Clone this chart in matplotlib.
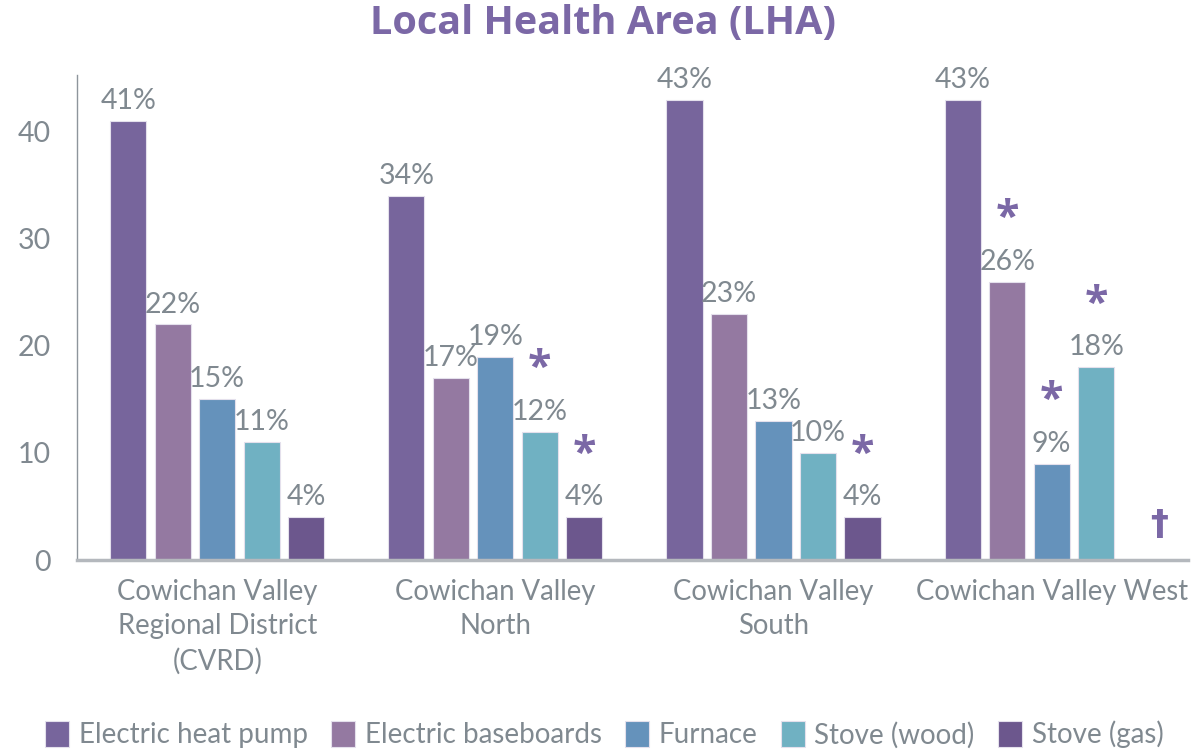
import matplotlib.pyplot as plt
import numpy as np

# data
regions = ["Cowichan Valley\nRegional District\n(CVRD)", "Cowichan Valley\nNorth",
           "Cowichan Valley\nSouth", "Cowichan Valley West"]
sources = ["Electric heat pump", "Electric baseboards", "Furnace", "Stove (wood)", "Stove (gas)"]
heat_pump = [41, 34, 43, 43]
baseboards = [22, 17, 23, 26]
furnace = [15, 19, 13, 9]
stove_wood = [11, 12, 10, 18]
stove_gas = [4, 4, 4, None]
# (region index, source index) flagged with an asterisk
flagged = [(1, 3), (1, 4), (2, 4), (3, 1), (3, 2), (3, 3)]
# suppressed value (dagger)
suppressed = [(3, 4)]

colors = ["#77659c", "#9479a1", "#6592bb", "#70b1c2", "#6c578d"]
text_gray = "#808990"
accent = "#7b68a6"

plt.rcParams['font.family'] = ['Lato', 'DejaVu Sans']

fig = plt.figure(figsize=(11.92, 7.53), dpi=100)
ax = fig.add_axes([0.0646, 0.2563, 0.932, 0.6441])

x = np.arange(len(regions))
step = 0.16
width = 0.13
series = [heat_pump, baseboards, furnace, stove_wood, stove_gas]

for i, (name, vals) in enumerate(zip(sources, series)):
    pos = x + (i - 2) * step
    h = [v if v is not None else 0 for v in vals]
    bars = ax.bar(pos, h, width, color=colors[i], edgecolor="#e4e0ec", linewidth=0.8, label=name)
    for b, v in zip(bars, vals):
        if v is None:
            continue
        ax.annotate(f"{v}%", (b.get_x() + b.get_width() / 2, v), xytext=(0, 5),
                    textcoords="offset points", ha="center", va="bottom",
                    fontsize=20.5, color=text_gray)

for r, s in flagged:
    v = series[s][r]
    ax.text(x[r] + (s - 2) * step, v + 5.8, "*", ha="center", va="center",
            fontsize=31, fontweight="bold", color=accent, family="Open Sans")

for r, s in suppressed:
    ax.annotate("\u2020", (x[r] + (s - 2) * step, 3.3), xytext=(13, 0),
                textcoords="offset points", ha="center", va="center",
                fontsize=26, fontweight="bold", color=accent, family="DejaVu Sans")

ax.set_xlim(-0.504, 3.49)
ax.set_ylim(0, 45.3)
ax.set_yticks([0, 10, 20, 30, 40])
ax.set_xticks(x)
ax.set_xticklabels(regions, fontsize=19.8, color=text_gray, linespacing=1.38)
ax.tick_params(axis="y", labelsize=20.5, labelcolor=text_gray, length=0, pad=19)
ax.tick_params(axis="x", length=0, pad=14)

for side in ["top", "right"]:
    ax.spines[side].set_visible(False)
ax.spines["left"].set_color("#8e959c")
ax.spines["left"].set_linewidth(1)
ax.spines["bottom"].set_color("#b4b8bd")
ax.spines["bottom"].set_linewidth(2.5)

fig.suptitle("Local Health Area (LHA)", x=0.506, y=0.995, va="top", fontsize=28.5,
             fontweight="bold", color=accent, family="Open Sans")

leg = fig.legend(loc="lower center", bbox_to_anchor=(0.507, -0.027), ncol=5, frameon=False,
                 fontsize=20, handlelength=0.85, handleheight=1.05, handletextpad=0.35,
                 columnspacing=0.85)
for t in leg.get_texts():
    t.set_color(text_gray)

fig.savefig("out.png", dpi=100)
